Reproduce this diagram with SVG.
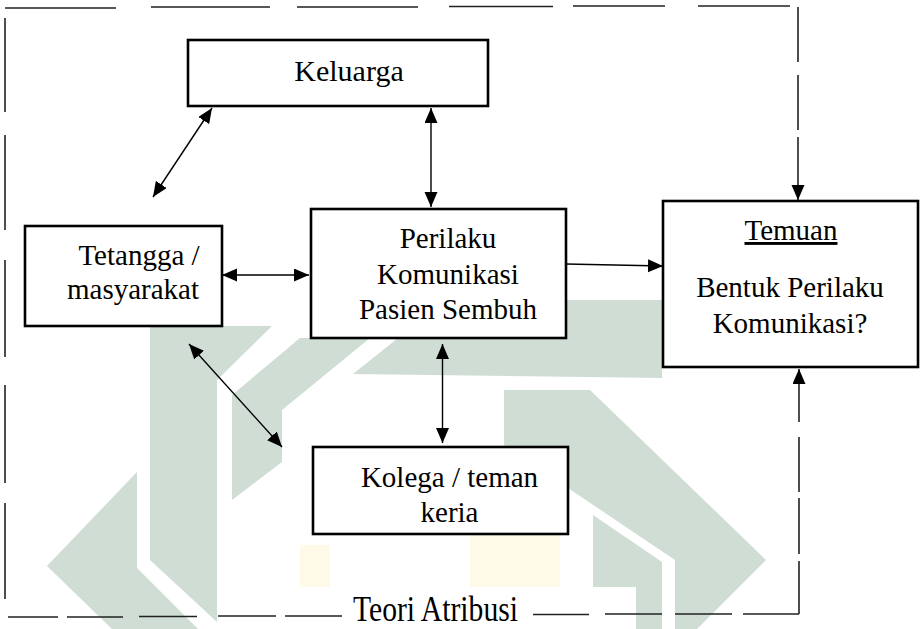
<svg xmlns="http://www.w3.org/2000/svg" width="922" height="629" viewBox="0 0 922 629">
<style>
.box{fill:#fff;stroke:#000;stroke-width:2.6}
.open{fill:none;stroke:#000;stroke-width:2.6}
.con{fill:none;stroke:#000;stroke-width:1.4}
.dash{fill:none;stroke:#222;stroke-width:1.6}
.wm{fill:#cfddd5}
</style>
<defs>
<marker id="ah" markerUnits="userSpaceOnUse" markerWidth="16" markerHeight="14" refX="15" refY="6.5" orient="auto-start-reverse">
<path d="M0,0 L15,6.5 L0,13 z" fill="#000"/>
</marker>
</defs>
<rect width="922" height="629" fill="#fff"/>
<g id="watermark">
<polygon class="wm" points="150,326 272,326 217,380 217,622 150,560"/>
<polygon class="wm" points="137,472 47,566 112,629 198,629 137,568"/>
<polygon class="wm" points="300,338 370,338 282,410 282,462 232,500 232,395"/>
<polygon class="wm" points="353,374 398,338 566,338 566,300 662,300 662,378"/>
<polygon class="wm" points="504,390 590,390 766,560 697,629 675,629 675,560 504,445"/>
<polygon class="wm" points="593,515 662,562 662,629 593,629"/>
<polygon fill="#fff9e8" points="470,470 560,470 560,587 470,587"/>
<polygon fill="#fff9e8" points="300,545 330,545 330,587 300,587"/>
<rect x="300" y="587" width="336" height="42" fill="#fff"/>
</g>
<g id="connectors">
<line class="con" x1="212" y1="108" x2="153" y2="197" marker-start="url(#ah)" marker-end="url(#ah)"/>
<line class="con" x1="431" y1="108" x2="431" y2="207" marker-start="url(#ah)" marker-end="url(#ah)"/>
<line class="con" x1="222" y1="275" x2="309" y2="275" marker-start="url(#ah)" marker-end="url(#ah)"/>
<line class="con" x1="566" y1="264" x2="663" y2="266" marker-end="url(#ah)"/>
<line class="con" x1="442.5" y1="344" x2="442.5" y2="443" marker-start="url(#ah)" marker-end="url(#ah)"/>
<line class="con" x1="189" y1="344" x2="282" y2="447" marker-start="url(#ah)" marker-end="url(#ah)"/>
<path class="dash" d="M5,8 L116,8 M151,7 L270,7 M297,7 L418,7 M449,6.5 L553,6.5 M573,6 L665,6 M698,6 L790,6 M5,18 L5,112 M5,135 L5,230 M5,260 L5,357 M5,385 L5,483 M5,503 L5,599 M798,7 L798,62 M798,75 L798,130 M8,617 L58,617 M67,617 L123,617 M139,616.5 L197,616.5 M218,616 L276,616 M285,616 L342,616 M533,614.5 L589,614.5 M605,614 L662,614 M675,614 L732,614 M743,614 L799,614 M799,614 L799,561 M799,554 L799,498 M799,492 L799,437"/>
<line class="dash" x1="798" y1="137" x2="798" y2="200" marker-end="url(#ah)"/>
<line class="dash" x1="799" y1="422" x2="799" y2="369" marker-end="url(#ah)"/>
</g>
<g font-family="Liberation Serif, Times New Roman, serif" font-size="29" fill="#000" text-anchor="middle">
<g id="keluarga">
<rect class="box" x="188" y="40" width="300" height="66"/>
<text x="349" y="81" font-family="Liberation Serif, Times New Roman, serif" font-size="30">Keluarga</text>
</g>
<g id="tetangga">
<rect class="open" x="25" y="226" width="197" height="100"/>
<text x="139" y="265" font-family="Liberation Serif, Times New Roman, serif">Tetangga /</text>
<text x="133" y="299" font-family="Liberation Serif, Times New Roman, serif">masyarakat</text>
</g>
<g id="perilaku">
<rect class="box" x="311" y="209" width="255" height="129"/>
<text x="448" y="248" font-family="Liberation Serif, Times New Roman, serif">Perilaku</text>
<text x="448" y="284" font-family="Liberation Serif, Times New Roman, serif">Komunikasi</text>
<text x="448" y="319" font-family="Liberation Serif, Times New Roman, serif">Pasien Sembuh</text>
</g>
<g id="temuan">
<rect class="box" x="663" y="201" width="255" height="166"/>
<text x="791" y="240" text-decoration="underline" font-family="Liberation Serif, Times New Roman, serif">Temuan</text>
<text x="790" y="297" font-family="Liberation Serif, Times New Roman, serif">Bentuk Perilaku</text>
<text x="790" y="333" font-family="Liberation Serif, Times New Roman, serif">Komunikasi?</text>
</g>
<g id="kolega">
<rect class="box" x="313" y="447" width="255" height="87"/>
<text x="449.5" y="487" font-family="Liberation Serif, Times New Roman, serif">Kolega / teman</text>
<text x="449.5" y="522" font-family="Liberation Serif, Times New Roman, serif">keria</text>
</g>
<g id="teori">
<text x="353" y="621" text-anchor="start" font-family="Liberation Serif, Times New Roman, serif" font-size="36" textLength="165" lengthAdjust="spacingAndGlyphs">Teori Atribusi</text>
</g>
</g>
</svg>
